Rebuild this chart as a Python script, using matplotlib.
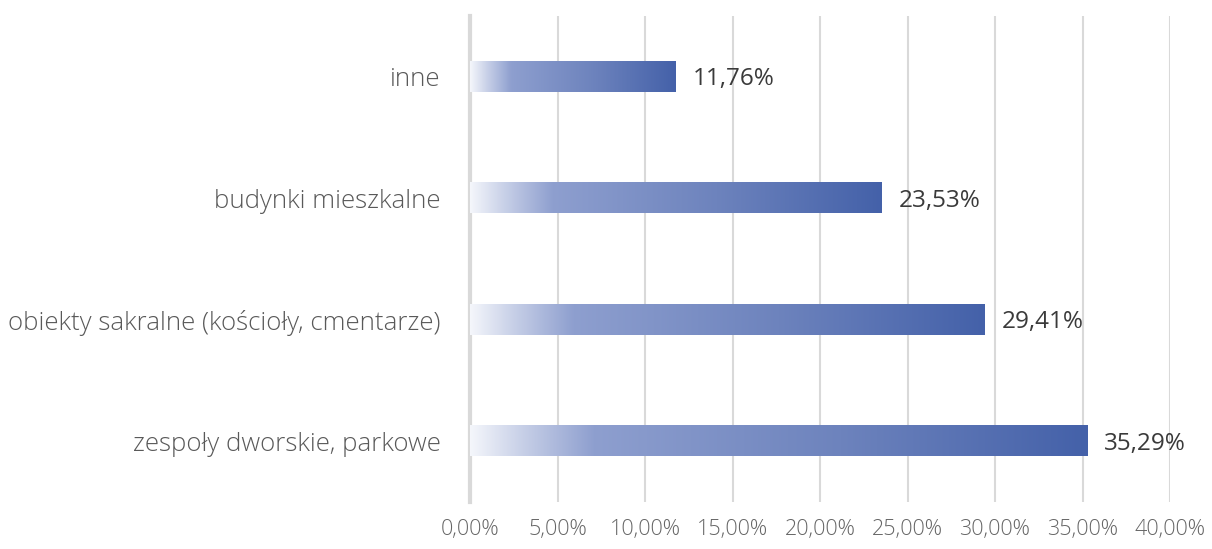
import numpy as np
import matplotlib.pyplot as plt
from matplotlib.colors import LinearSegmentedColormap

categories = ['zespoły dworskie, parkowe',
              'obiekty sakralne (kościoły, cmentarze)',
              'budynki mieszkalne',
              'inne']
values = [35.29, 29.41, 23.53, 11.76]
value_labels = ['35,29%', '29,41%', '23,53%', '11,76%']
tick_values = [0, 5, 10, 15, 20, 25, 30, 35, 40]
tick_labels = ['0,00%', '5,00%', '10,00%', '15,00%', '20,00%',
               '25,00%', '30,00%', '35,00%', '40,00%']

plt.rcParams['font.family'] = ['Open Sans', 'DejaVu Sans']

# gradient like Excel: white -> light blue -> dark blue
cmap = LinearSegmentedColormap.from_list(
    'bar_grad', [(0.0, '#f4f6fb'), (0.08, '#c9d1e8'), (0.2, '#8e9fcf'),
                 (0.6, '#6d83bd'), (1.0, '#4461a9')])
grad = np.linspace(0, 1, 256).reshape(1, -1)

fig = plt.figure(figsize=(12.12, 5.49), dpi=100)
ax = fig.add_axes([470 / 1212, 1 - 502 / 549, 700 / 1212, 486 / 549])

bar_h = 0.25
for i, v in enumerate(values):
    ax.imshow(grad, cmap=cmap, aspect='auto', interpolation='bilinear',
              extent=[0, v, i - bar_h / 2, i + bar_h / 2], zorder=3)
    ax.text(v + 0.95, i - 0.02, value_labels[i], va='center', ha='left',
            fontsize=17.5, color='#3a3a3a', zorder=4)

ax.set_xlim(0, 40)
ax.set_ylim(-0.5, len(categories) - 0.5)
ax.set_xticks(tick_values)
ax.set_xticklabels(tick_labels, fontsize=15.5, color='#666666',
                   fontweight='light')
ax.set_yticks(range(len(categories)))
ax.set_yticklabels(categories, fontsize=18.6, color='#595959',
                   fontweight='light')
ax.tick_params(axis='both', length=0)
ax.tick_params(axis='x', pad=12)
ax.tick_params(axis='y', pad=21)

for x in tick_values[1:]:
    ax.axvline(x, color='#d9d9d9', linewidth=1.5, zorder=1)
for side in ['top', 'right', 'bottom']:
    ax.spines[side].set_visible(False)
ax.spines['left'].set_color('#d9d9d9')
ax.spines['left'].set_linewidth(3)

fig.savefig('out.png', dpi=100)
